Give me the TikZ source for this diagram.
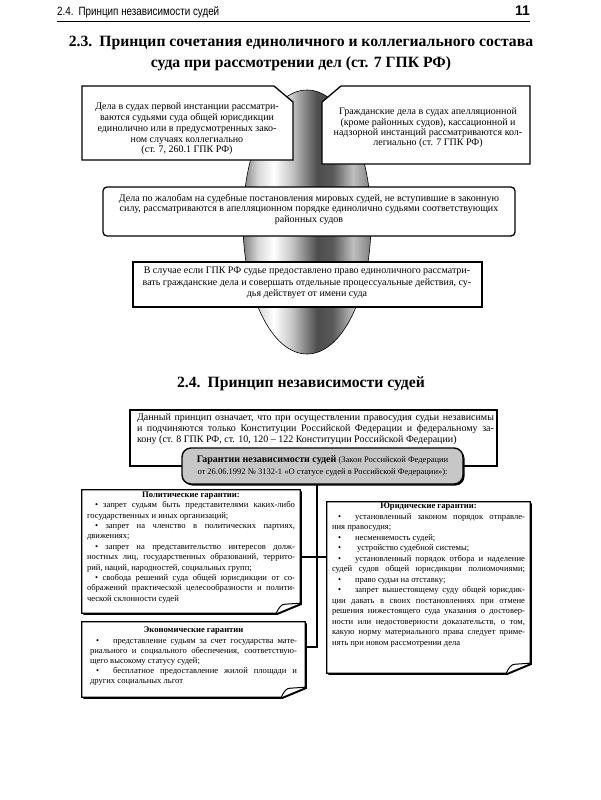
\documentclass[tikz,border=0pt]{standalone}
\usepackage{fontspec}
\setmainfont{Liberation Serif}
\newfontfamily\narrowsans[FakeStretch=0.82]{Liberation Sans}
\newfontfamily\hsans{Liberation Sans}
\usetikzlibrary{shadows}
\pgfdeclarehorizontalshading{metal}{100bp}{color(0bp)=(black!50); color(25bp)=(black!50); color(31bp)=(black!15); color(37bp)=(white); color(44bp)=(black!22); color(54bp)=(black!70); color(60bp)=(black!65); color(68bp)=(black!25); color(75bp)=(black!50); color(100bp)=(black!50)}
\newcommand\jst[2]{\makebox[#1][s]{#2}}
\newcommand\lft[2]{\makebox[#1][l]{#2}}
\newcommand\ctr[2]{\makebox[#1][c]{#2}}
\newcommand\curlpath[2]{([shift={#2}]#1.north west) -- ([shift={#2}]#1.north east) -- ([shift={#2},yshift=10pt]#1.south east) -- ([shift={#2},xshift=-24pt]#1.south east) -- ([shift={#2}]#1.south west) -- cycle}
\newcommand\curlbox[1]{%
  \fill[black] \curlpath{#1}{(1.6pt,-1.6pt)};
  \draw[line width=1.3pt, fill=white, line join=miter] \curlpath{#1}{(0pt,0pt)};
  \draw[line width=1pt, fill=white] ([xshift=-24pt]#1.south east) .. controls ([xshift=-21pt,yshift=6pt]#1.south east) and ([xshift=-19pt,yshift=9pt]#1.south east) .. ([xshift=-15pt,yshift=9pt]#1.south east) -- ([yshift=10pt]#1.south east);
}
\begin{document}
\begin{tikzpicture}[x=1pt,y=-1pt,
  txt/.style={inner sep=0pt, align=center},
  jtxt/.style={inner sep=0pt, align=left},
  boxline/.style={draw, line width=1.3pt, fill=white},
  blank/.style={inner sep=0pt, draw=none},
  conn/.style={line width=2pt}]
\useasboundingbox[fill=white] (0,0) rectangle (600,800);
% header
\node[inner sep=0pt, anchor=base west, font=\narrowsans\fontsize{12}{14}\selectfont] (hdr) at (57,16) {2.4.\hspace{5pt}Принцип независимости судей};
\node[inner sep=0pt, anchor=base east, font=\hsans\bfseries\fontsize{14}{16}\selectfont] (pg) at (530,16) {11};
\draw[line width=0.8pt] (hdr.base west |- 0,21) -- (pg.base east |- 0,21);
% title
\node[txt, font=\bfseries\fontsize{15.7}{21}\selectfont] (title) at (301,53) {2.3.\hspace{7pt}Принцип сочетания единоличного и коллегиального состава\\суда при рассмотрении дел (ст. 7 ГПК РФ)};
% central shape
\path[draw, line width=0.6pt, shading=metal] (307,222) ellipse [x radius=64pt, y radius=132pt];
\draw[boxline] (82,86) -- (274,86) -- (293,102) -- (293,160) -- (82,160) -- cycle;
\draw[boxline] (322,102) -- (341,86) -- (530,86) -- (530,164) -- (322,164) -- cycle;
\draw[boxline, rounded corners=4pt] (103,187) rectangle (515,236);
\draw[boxline, line width=2pt] (133,262) rectangle (482,307);
\node[txt, font=\fontsize{10}{10.8}\selectfont] (t1) at (187,129) {Дела в судах первой инстанции рассматри-\\ваются судьями суда общей юрисдикции\\единолично или в предусмотренных зако-\\ном случаях коллегиально\\(ст. 7, 260.1 ГПК РФ)};
\node[txt, font=\fontsize{10}{10.3}\selectfont] (t2) at (428,128) {Гражданские дела в судах апелляционной\\(кроме районных судов), кассационной и\\надзорной инстанций рассматриваются кол-\\легиально (ст. 7 ГПК РФ)};
\node[txt, font=\fontsize{10}{10.5}\selectfont] (t3) at (309,209) {Дела по жалобам на судебные постановления мировых судей, не вступившие в законную\\силу, рассматриваются в апелляционном порядке единолично судьями соответствующих\\районных судов};
\node[txt, font=\fontsize{10}{11.5}\selectfont] (t4) at (307,283) {В случае если ГПК РФ судье предоставлено право единоличного рассматри-\\вать гражданские дела и совершать отдельные процессуальные действия, су-\\дья действует от имени суда};
% section 2.4
\node[txt, font=\bfseries\fontsize{15.7}{19}\selectfont] (title2) at (301,384) {2.4.\hspace{7pt}Принцип независимости судей};
% connectors
\coordinate (jn) at (317,557);
\coordinate (eb) at (317,647);
% boxes
\node[blank, minimum width=218pt, minimum height=123pt] (pol) at (191,551.5) {};
\node[blank, minimum width=203pt, minimum height=171pt] (jur) at (428.5,587.5) {};
\node[blank, minimum width=223pt, minimum height=75pt] (econ) at (193.5,659.5) {};
\node[draw, line width=2.2pt, minimum width=367pt, minimum height=56pt, inner sep=0pt, fill=white] (prin) at (313.5,438) {};
\node[jtxt, anchor=north, font=\fontsize{10}{11}\selectfont] (prt) at (315.5,413) {%
\jst{357pt}{Данный принцип означает, что при осуществлении правосудия судьи независимы}\\
\jst{357pt}{и подчиняются только Конституции Российской Федерации и федеральному за-}\\
\lft{357pt}{кону (ст. 8 ГПК РФ, ст. 10, 120 – 122 Конституции Российской Федерации)}};
\node[draw, line width=1.4pt, fill=black!22, rounded corners=9pt, minimum width=281pt, minimum height=36pt, inner sep=0pt, align=center,
  drop shadow={shadow xshift=1.5pt, shadow yshift=-1.5pt, fill=black, opacity=1},
  font=\fontsize{8.5}{12}\selectfont] (gar) at (322.5,466) {{\fontsize{10}{12}\selectfont\bfseries Гарантии независимости судей} (Закон Российской Федерации\\от 26.06.1992 № 3132-1 «О статусе судей в Российской Федерации»):};
\draw[conn] (gar.south -| jn) -- (eb) -- (eb -| econ.east);
\draw[conn] (pol.east |- jn) -- (jur.west |- jn);
\curlbox{pol}
\curlbox{jur}
\curlbox{econ}
\node[jtxt, anchor=north, font=\fontsize{8.6}{10.4}\selectfont] (polt) at (191,491.5) {%
\ctr{208pt}{\textbf{Политические гарантии:}}\\
\jst{208pt}{\hspace*{8pt}•\ запрет судьям быть представителями каких-либо}\\
\lft{208pt}{государственных и иных организаций;}\\
\jst{208pt}{\hspace*{8pt}•\ запрет на членство в политических партиях,}\\
\lft{208pt}{движениях;}\\
\jst{208pt}{\hspace*{8pt}•\ запрет на представительство интересов долж-}\\
\jst{208pt}{ностных лиц, государственных образований, террито-}\\
\lft{208pt}{рий, наций, народностей, социальных групп;}\\
\jst{208pt}{\hspace*{8pt}•\ свобода решений суда общей юрисдикции от со-}\\
\jst{208pt}{ображений практической целесообразности и полити-}\\
\lft{208pt}{ческой склонности судей}};
\node[jtxt, anchor=north, font=\fontsize{8.6}{10.5}\selectfont] (jurt) at (428.5,503) {%
\ctr{193pt}{\textbf{Юридические гарантии:}}\\
\jst{193pt}{\hspace*{6pt}•\hspace{14pt}установленный законом порядок отправле-}\\
\lft{193pt}{ния правосудия;}\\
\lft{193pt}{\hspace*{6pt}•\hspace{14pt}несменяемость судей;}\\
\lft{193pt}{\hspace*{6pt}•\hspace{16pt}устройство судебной системы;}\\
\jst{193pt}{\hspace*{6pt}•\hspace{14pt}установленный порядок отбора и наделение}\\
\jst{193pt}{судей судов общей юрисдикции полномочиями;}\\
\lft{193pt}{\hspace*{6pt}•\hspace{14pt}право судьи на отставку;}\\
\jst{193pt}{\hspace*{6pt}•\hspace{14pt}запрет вышестоящему суду общей юрисдик-}\\
\jst{193pt}{ции давать в своих постановлениях при отмене}\\
\jst{193pt}{решения нижестоящего суда указания о достовер-}\\
\jst{193pt}{ности или недостоверности доказательств, о том,}\\
\jst{193pt}{какую норму материального права следует приме-}\\
\lft{193pt}{нять при новом рассмотрении дела}};
\node[jtxt, anchor=north, font=\fontsize{8.6}{10.2}\selectfont] (econt) at (193.5,627) {%
\ctr{207pt}{\textbf{Экономические гарантии}}\\
\jst{207pt}{\hspace*{6pt}•\hspace{14pt}представление судьям за счет государства мате-}\\
\jst{207pt}{риального и социального обеспечения, соответствую-}\\
\lft{207pt}{щего высокому статусу судей;}\\
\jst{207pt}{\hspace*{6pt}•\hspace{14pt}бесплатное предоставление жилой площади и}\\
\lft{207pt}{других социальных льгот}};
\end{tikzpicture}
\end{document}
